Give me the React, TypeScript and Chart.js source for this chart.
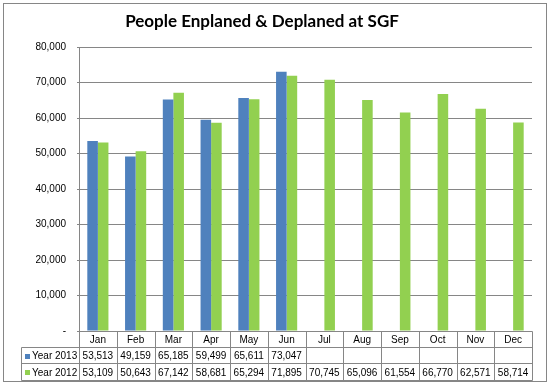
import React, { useEffect, useRef } from "react";
import { Chart, registerables } from "chart.js";

Chart.register(...registerables);

const categories = ["Jan", "Feb", "Mar", "Apr", "May", "Jun", "Jul", "Aug", "Sep", "Oct", "Nov", "Dec"];
const year2013: (number | null)[] = [53513, 49159, 65185, 59499, 65611, 73047, null, null, null, null, null, null];
const year2012: number[] = [53109, 50643, 67142, 58681, 65294, 71895, 70745, 65096, 61554, 66770, 62571, 58714];
const seriesNames = ["Year 2013", "Year 2012"];
const seriesColors = ["#4F81BD", "#92D050"];
const titleText = "People Enplaned & Deplaned at SGF";

const fmt = (v: number) => (v === 0 ? "-" : v.toLocaleString("en-US"));

const GRID = "#868686";
const FONT = "10px 'Liberation Sans', Arial, sans-serif";

const tablePlugin = {
  id: "excelTable",
  afterDraw(chart: any) {
    const ctx = chart.ctx as CanvasRenderingContext2D;
    const area = chart.chartArea;
    const xs = chart.scales.x;
    const n = categories.length;
    const colW = (area.right - area.left) / n;
    ctx.save();
    // outer border
    ctx.strokeStyle = GRID;
    ctx.lineWidth = 1;
    ctx.strokeRect(3.5, 3.5, 543, 378);
    // title
    ctx.fillStyle = "#000";
    ctx.font = "bold 17px Lato, 'Open Sans', sans-serif";
    ctx.textAlign = "center";
    ctx.textBaseline = "middle";
    ctx.fillText(titleText, 262, 22);

    const y0 = Math.round(area.bottom) + 0.5;
    const r1 = y0 + 16;
    const r2 = r1 + 16;
    const r3 = r2 + 17;
    const legL = 21.5;
    const L = Math.round(area.left) + 0.5;
    const R = Math.round(area.right) + 0.5;

    ctx.strokeStyle = GRID;
    ctx.beginPath();
    ctx.moveTo(L, y0);
    ctx.lineTo(R, y0);
    [r1, r2, r3].forEach((y) => {
      ctx.moveTo(legL, y);
      ctx.lineTo(R, y);
    });
    ctx.moveTo(legL, r1);
    ctx.lineTo(legL, r3);
    for (let i = 0; i <= n; i++) {
      const x = Math.round(area.left + i * colW) + 0.5;
      ctx.moveTo(x, y0);
      ctx.lineTo(x, r3);
    }
    ctx.stroke();

    ctx.font = FONT;
    ctx.fillStyle = "#000";
    ctx.textAlign = "center";
    ctx.textBaseline = "middle";
    const rows = [year2013, year2012];
    categories.forEach((c, i) => {
      const cx = xs.getPixelForValue(i);
      ctx.fillText(c, cx, (y0 + r1) / 2 + 1);
      rows.forEach((row, k) => {
        const v = row[i];
        if (v !== null && v !== undefined) {
          const yy = k === 0 ? (r1 + r2) / 2 + 1 : (r2 + r3) / 2 + 1;
          ctx.fillText(fmt(v), cx, yy);
        }
      });
    });
    ctx.textAlign = "left";
    seriesNames.forEach((name, k) => {
      const yy = k === 0 ? (r1 + r2) / 2 : (r2 + r3) / 2;
      ctx.fillStyle = seriesColors[k];
      ctx.fillRect(25, Math.round(yy) - 2, 5, 5);
      ctx.fillStyle = "#000";
      ctx.fillText(name, 32, yy + 1);
    });
    ctx.restore();
  },
};

export default function App() {
  const ref = useRef<HTMLCanvasElement>(null);
  useEffect(() => {
    document.body.style.margin = "0";
    const chart = new Chart(ref.current!, {
      type: "bar",
      data: {
        labels: categories,
        datasets: [
          { label: seriesNames[0], data: year2013, backgroundColor: seriesColors[0], categoryPercentage: 0.56, barPercentage: 1 },
          { label: seriesNames[1], data: year2012, backgroundColor: seriesColors[1], categoryPercentage: 0.56, barPercentage: 1 },
        ],
      },
      options: {
        animation: false,
        responsive: false,
        layout: { padding: { left: 0, right: 16, top: 47, bottom: 60 } },
        plugins: { legend: { display: false }, title: { display: false }, tooltip: { enabled: false } },
        scales: {
          x: { display: false },
          y: {
            min: 0,
            max: 80000,
            afterFit: (s: any) => {
              s.width = 79;
            },
            ticks: {
              stepSize: 10000,
              padding: 11,
              color: "#000",
              font: { family: "'Liberation Sans', Arial, sans-serif", size: 10 },
              callback: (v: any) => fmt(Number(v)),
            },
            grid: { color: GRID, drawTicks: true, tickLength: 2 },
            border: { display: true, color: GRID },
          },
        },
      },
      plugins: [tablePlugin],
    });
    return () => chart.destroy();
  }, []);
  return <canvas ref={ref} width={548} height={391} style={{ display: "block" }} />;
}
